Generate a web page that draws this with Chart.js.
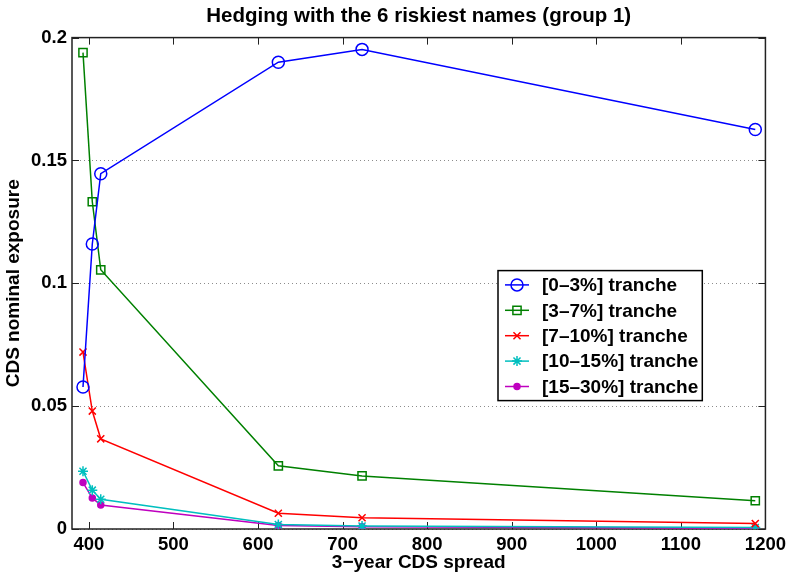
<!DOCTYPE html>
<html>
<head>
<meta charset="utf-8">
<script src="https://cdn.jsdelivr.net/npm/chart.js@4.4.0/dist/chart.umd.min.js"></script>
<style>
  body { margin: 0; background: #fff; }
  #wrap { width: 791px; height: 574px; }
</style>
</head>
<body>
<div id="wrap"><canvas id="chart" width="791" height="574"></canvas></div>
<script>
var spread = [393, 404, 414, 624, 723, 1188];
var tranche0to3 = [0.0578, 0.116, 0.1446, 0.1900, 0.1952, 0.1626];
var tranche3to7 = [0.1939, 0.1332, 0.1055, 0.0257, 0.0216, 0.0115];
var tranche7to10 = [0.0720, 0.0480, 0.0367, 0.0064, 0.0046, 0.0022];
var tranche10to15 = [0.0235, 0.0158, 0.0121, 0.0018, 0.0012, 0.0006];
var tranche15to30 = [0.0189, 0.0126, 0.0098, 0.0014, 0.0009, 0.0003];
var seriesLabels = ['[0–3%] tranche', '[3–7%] tranche', '[7–10%] tranche', '[10–15%] tranche', '[15–30%] tranche'];
var xTicks = [400, 500, 600, 700, 800, 900, 1000, 1100, 1200];
var xTickLabels = ['400', '500', '600', '700', '800', '900', '1000', '1100', '1200'];
var yTicks = [0, 0.05, 0.1, 0.15, 0.2];
var yTickLabels = ['0', '0.05', '0.1', '0.15', '0.2'];

var FONT = "'Liberation Sans', Arial, Helvetica, sans-serif";

function points(values) {
    return values.map((v, i) => ({ x: spread[i], y: v }));
}

function series(label, values, color, style, radius, fill) {
    return {
        label: label,
        data: points(values),
        borderColor: color,
        backgroundColor: color,
        borderWidth: 1.5,
        pointStyle: style,
        pointRadius: radius,
        pointHoverRadius: radius,
        pointBorderWidth: 1.5,
        pointBorderColor: color,
        pointBackgroundColor: fill ? color : 'rgba(0,0,0,0)',
        tension: 0
    };
}

// box round the axes with inward ticks, like matlab
var axesBox = {
    id: 'axesBox',
    beforeDatasetsDraw(chart) {
        const { ctx, chartArea: a, scales: { x, y } } = chart;
        ctx.save();
        ctx.strokeStyle = '#222';
        ctx.lineWidth = 1;
        ctx.beginPath();
        xTicks.forEach(v => {
            const px = Math.round(x.getPixelForValue(v)) + 0.5;
            ctx.moveTo(px, a.bottom); ctx.lineTo(px, a.bottom - 7);
            ctx.moveTo(px, a.top); ctx.lineTo(px, a.top + 7);
        });
        yTicks.forEach(v => {
            const py = Math.round(y.getPixelForValue(v)) + 0.5;
            ctx.moveTo(a.left, py); ctx.lineTo(a.left + 7, py);
            ctx.moveTo(a.right, py); ctx.lineTo(a.right - 7, py);
        });
        ctx.stroke();
        ctx.lineWidth = 1.5;
        ctx.strokeRect(a.left, a.top, a.right - a.left, a.bottom - a.top);
        ctx.restore();
    }
};

function drawMarker(ctx, ds, cx, cy) {
    const opts = {
        pointStyle: ds.pointStyle,
        radius: ds.pointRadius,
        borderWidth: ds.pointBorderWidth,
        rotation: 0
    };
    ctx.strokeStyle = ds.pointBorderColor;
    ctx.fillStyle = ds.pointBackgroundColor;
    ctx.lineWidth = ds.pointBorderWidth;
    if (Chart.helpers && Chart.helpers.drawPoint) {
        Chart.helpers.drawPoint(ctx, opts, cx, cy);
    } else {
        ctx.beginPath();
        ctx.arc(cx, cy, ds.pointRadius, 0, Math.PI * 2);
        ctx.fill();
        ctx.stroke();
    }
}

// legend box inside the plot
var boxLegend = {
    id: 'boxLegend',
    afterDraw(chart) {
        const { ctx, chartArea: a } = chart;
        const rowH = 25.4;
        ctx.save();
        ctx.font = 'bold 19px ' + FONT;
        let maxW = 0;
        chart.data.datasets.forEach(ds => { maxW = Math.max(maxW, ctx.measureText(ds.label).width); });
        const left = a.left + 426;
        const top = a.top + 233;
        const textX = left + 44;
        const w = textX - left + maxW + 4;
        const h = rowH * chart.data.datasets.length + 3;
        ctx.fillStyle = '#fff';
        ctx.fillRect(left, top, w, h);
        ctx.strokeStyle = '#000';
        ctx.lineWidth = 1.5;
        ctx.strokeRect(left, top, w, h);
        chart.data.datasets.forEach((ds, i) => {
            const cy = top + 14.3 + i * rowH;
            ctx.strokeStyle = ds.borderColor;
            ctx.lineWidth = ds.borderWidth;
            ctx.beginPath();
            ctx.moveTo(left + 7, cy);
            ctx.lineTo(left + 31, cy);
            ctx.stroke();
            drawMarker(ctx, ds, left + 19, cy);
            ctx.fillStyle = '#000';
            ctx.textBaseline = 'middle';
            ctx.textAlign = 'left';
            ctx.fillText(ds.label, textX, cy + 1);
        });
        ctx.restore();
    }
};

var ctx = document.getElementById('chart').getContext('2d');
new Chart(ctx, {
    type: 'line',
    data: {
        datasets: [
            series(seriesLabels[0], tranche0to3, '#0000ff', 'circle', 6, false),
            series(seriesLabels[1], tranche3to7, '#008000', 'rect', 5.8, false),
            series(seriesLabels[2], tranche7to10, '#ff0000', 'crossRot', 5, false),
            series(seriesLabels[3], tranche10to15, '#00bfbf', 'star', 5, false),
            series(seriesLabels[4], tranche15to30, '#bf00bf', 'circle', 3, true)
        ]
    },
    options: {
        responsive: false,
        animation: false,
        devicePixelRatio: 1,
        layout: { padding: { left: 0, right: 23, top: 0, bottom: 0 } },
        plugins: {
            legend: { display: false },
            tooltip: { enabled: false },
            title: {
                display: true,
                fullSize: false,
                text: 'Hedging with the 6 riskiest names (group 1)',
                color: '#000',
                font: { family: FONT, size: 20.5, weight: 'bold' },
                padding: { top: 4, bottom: 9 }
            }
        },
        scales: {
            x: {
                type: 'linear',
                min: 380,
                max: 1200,
                afterBuildTicks: s => { s.ticks = xTicks.map(v => ({ value: v })); },
                afterFit: s => { s.height = 45; },
                grid: { display: false, drawTicks: false },
                border: { display: false },
                ticks: {
                    color: '#000',
                    padding: 5,
                    maxRotation: 0,
                    font: { family: FONT, size: 18.5, weight: 'bold' },
                    callback: (v, i) => xTickLabels[i]
                },
                title: {
                    display: true,
                    text: '3−year CDS spread',
                    color: '#000',
                    font: { family: FONT, size: 19, weight: 'bold' },
                    padding: { top: 0, bottom: 0 }
                }
            },
            y: {
                type: 'linear',
                min: 0,
                max: 0.2,
                afterBuildTicks: s => { s.ticks = yTicks.map(v => ({ value: v })); },
                afterFit: s => { s.width = 72; },
                grid: { color: '#8c8c8c', lineWidth: 1, drawTicks: false },
                border: { display: false, dash: [1, 3] },
                ticks: {
                    color: '#000',
                    padding: 5,
                    font: { family: FONT, size: 18.5, weight: 'bold' },
                    callback: (v, i) => yTickLabels[i]
                },
                title: {
                    display: true,
                    text: 'CDS nominal exposure',
                    color: '#000',
                    font: { family: FONT, size: 19, weight: 'bold' },
                    padding: { top: 2.5, bottom: 0 }
                }
            }
        }
    },
    plugins: [axesBox, boxLegend]
});
</script>
</body>
</html>
